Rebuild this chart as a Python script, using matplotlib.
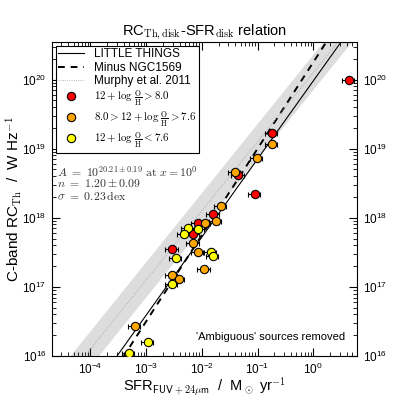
import numpy as np
import matplotlib
matplotlib.use("Agg")
import matplotlib.pyplot as plt

plt.rcParams['font.family'] = ['Liberation Sans', 'DejaVu Sans']
plt.rcParams['mathtext.fontset'] = 'cm'

# ---- data ----
red_sfr = [4.38, 0.179, 0.045, 0.0897, 0.0160, 0.00842, 0.00702, 0.00294]
red_rc = [1.0e20, 1.7e19, 4.1e18, 2.2e18, 1.15e18, 8.3e17, 5.9e17, 3.55e17]

orange_sfr = [0.179, 0.0964, 0.0393, 0.0218, 0.0177, 0.01138, 0.00702,
              0.00842, 0.01104, 0.00287, 0.00388, 0.00063]
orange_rc = [1.17e19, 7.4e18, 4.6e18, 1.5e18, 9.1e17, 8.3e17, 4.3e17, 3.2e17,
             1.8e17, 1.5e17, 1.3e17, 2.75e16]

yellow_sfr = [0.00861, 0.00570, 0.00483, 0.01455, 0.01563, 0.00339, 0.00287,
              0.001064, 0.000491]
yellow_rc = [6.9e17, 7.1e17, 5.9e17, 3.2e17, 2.8e17, 2.6e17, 1.1e17,
             1.6e16, 1.1e16]

xerr_frac = 0.25

# drawn relations: log10(RC) = logA + n*log10(SFR)
lt_logA, lt_n = 19.98, 1.13          # LITTLE THINGS
minus_logA, minus_n = 20.25, 1.25    # Minus NGC1569
murphy_logA, murphy_n, murphy_band = 20.1, 1.0, 0.255  # Murphy et al. 2011

xlim = (2.04e-5, 6.1)
ylim = (1e16, 3.5e20)

fig = plt.figure(figsize=(3.99, 3.99), dpi=100)
ax = fig.add_axes([0.1303, 0.1078, 0.7644, 0.787])
ax.set_xscale('log')
ax.set_yscale('log')

xx = np.logspace(np.log10(xlim[0]) - 0.5, np.log10(xlim[1]) + 0.5, 200)
mur = 10 ** (murphy_logA + murphy_n * np.log10(xx))
ax.fill_between(xx, mur / 10 ** murphy_band, mur * 10 ** murphy_band,
                color='#dddddd', lw=0, zorder=1)
ax.plot(xx, 10 ** (lt_logA + lt_n * np.log10(xx)), color='k', lw=0.8,
        zorder=2, label='LITTLE THINGS')
ax.plot(xx, 10 ** (minus_logA + minus_n * np.log10(xx)), color='k', lw=1.4,
        ls=(0, (3.5, 3)), zorder=2, label='Minus NGC1569')
ax.plot(xx, mur, color='#a0a0a0', lw=0.6, ls=':', zorder=2,
        label='Murphy et al. 2011')

groups = [
    (red_sfr, red_rc, '#ff0000', r'$12+\log\,\frac{\mathrm{O}}{\mathrm{H}}>8.0$'),
    (orange_sfr, orange_rc, '#ffa500', r'$8.0>12+\log\,\frac{\mathrm{O}}{\mathrm{H}}>7.6$'),
    (yellow_sfr, yellow_rc, '#ffff00', r'$12+\log\,\frac{\mathrm{O}}{\mathrm{H}}<7.6$'),
]
for sfr, rc, col, lab in groups:
    sfr = np.array(sfr)
    ax.errorbar(sfr, rc, xerr=[sfr * xerr_frac, sfr * xerr_frac], fmt='none',
                ecolor='k', elinewidth=0.8, capsize=1.8, capthick=0.8, zorder=3)
    ax.plot(sfr, rc, 'o', ms=6, mfc=col, mec='k', mew=0.8, ls='none',
            zorder=4, label=lab)

ax.set_xlim(*xlim)
ax.set_ylim(*ylim)

ax.tick_params(which='both', direction='in', top=True, right=True,
               labelright=True, labelsize=8.5)
ax.tick_params(which='major', length=6, width=0.8, pad=4)
ax.tick_params(which='minor', length=3, width=0.6)
for s in ax.spines.values():
    s.set_linewidth(0.8)

ax.set_title(r'RC$_{\rm Th,disk}$-SFR$_{\rm disk}$ relation', fontsize=10.5, pad=3)
ax.set_xlabel(r'SFR$_{\mathsf{FUV+24}\mu\mathsf{m}}$  /  M$_\odot$ yr$^{\mathsf{-1}}$',
              fontsize=10.5, labelpad=-1)
ax.set_ylabel(r'C-band RC$_{\rm Th}$  /  W Hz$^{\mathsf{-1}}$', fontsize=11,
              labelpad=-1)

leg = ax.legend(loc='upper left', fontsize=8.5, numpoints=1, fancybox=False,
                edgecolor='k', framealpha=1, handlelength=2.2,
                borderaxespad=0.3, labelspacing=0.12, borderpad=0.25)
leg.get_frame().set_linewidth(0.8)
for t in leg.get_texts()[3:]:
    t.set_fontsize(7.9)

ax.text(0.016, 0.586, r'$A\ =\ 10^{20.21\pm0.19}\ \mathrm{at}\ x=10^{0}$',
        transform=ax.transAxes, fontsize=8.5, va='center', color='#333333')
ax.text(0.016, 0.547, r'$n\ =\ 1.20\pm0.09$', transform=ax.transAxes,
        fontsize=8.5, va='center', color='#333333')
ax.text(0.016, 0.508, r'$\sigma\ =\ 0.23\,\mathrm{dex}$', transform=ax.transAxes,
        fontsize=8.5, va='center', color='#333333')
ax.text(0.96, 0.06, "'Ambiguous' sources removed", transform=ax.transAxes,
        fontsize=8, ha='right', va='center')

fig.savefig('out.png', dpi=100)
